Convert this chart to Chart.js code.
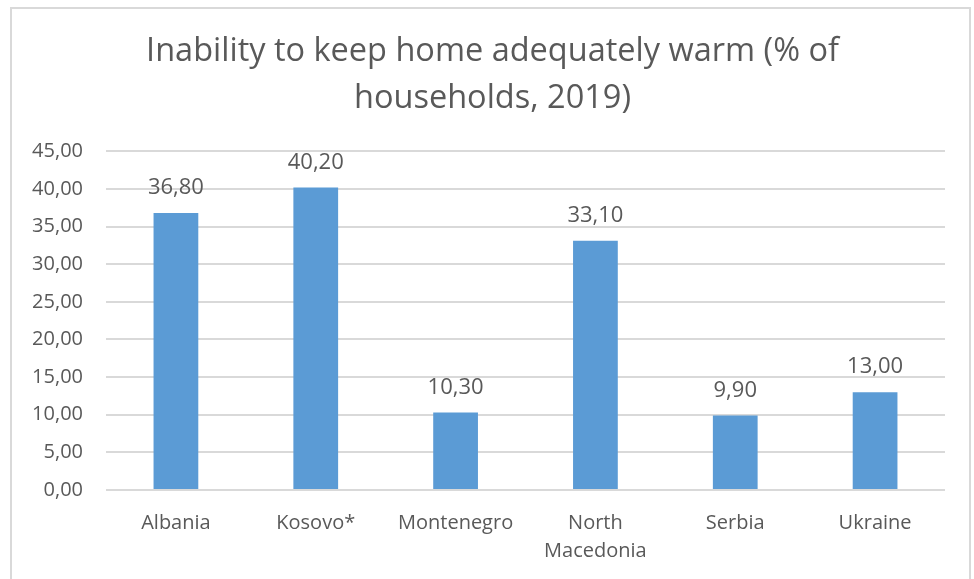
<!DOCTYPE html>
<html>
<head>
<meta charset="utf-8">
<title>Inability to keep home adequately warm</title>
<script src="https://cdn.jsdelivr.net/npm/chart.js@4/dist/chart.umd.min.js"></script>
<style>
  html, body { margin: 0; padding: 0; background: #fff; }
  #wrap { width: 974px; height: 579px; position: relative; }
</style>
</head>
<body>
<div id="wrap"><canvas id="warmChart" width="974" height="579"></canvas></div>
<script>
const titleLines = ['Inability to keep home adequately warm (% of', 'households, 2019)'];
const countries = ['Albania', 'Kosovo*', 'Montenegro', ['North', 'Macedonia'], 'Serbia', 'Ukraine'];
const shares = [36.8, 40.2, 10.3, 33.1, 9.9, 13.0];
const yMin = 0;
const yMax = 45;
const yStep = 5;

const FONT = "'Open Sans', sans-serif";
const GREY_TEXT = '#595959';
const GRID = '#d9d9d9';

const commaFmt = (v) => Number(v).toFixed(2).replace('.', ',');

// light frame around the whole chart, title centred on the frame
const frame = {
    id: 'frame',
    afterLayout: (chart) => {
        if (chart.titleBlock) {
            chart.titleBlock.left = 11;
            chart.titleBlock.right = 974;
        }
    },
    beforeDraw: (chart) => {
        const ctx = chart.ctx;
        ctx.save();
        ctx.fillStyle = '#fff';
        ctx.fillRect(0, 0, chart.width, chart.height);
        ctx.strokeStyle = '#d9d9d9';
        ctx.lineWidth = 2;
        ctx.strokeRect(11, 8, 959, 600);
        ctx.restore();
    }
};

// value printed above each bar
const barValues = {
    id: 'barValues',
    afterDatasetsDraw: (chart) => {
        const ctx = chart.ctx;
        const meta = chart.getDatasetMeta(0);
        ctx.save();
        ctx.font = `22px ${FONT}`;
        ctx.fillStyle = GREY_TEXT;
        ctx.textAlign = 'center';
        ctx.textBaseline = 'middle';
        meta.data.forEach((bar, i) => {
            ctx.fillText(commaFmt(chart.data.datasets[0].data[i]), bar.x, bar.y - 25);
        });
        ctx.restore();
    }
};

new Chart(document.getElementById('warmChart').getContext('2d'), {
    type: 'bar',
    data: {
        labels: countries,
        datasets: [{
            data: shares,
            backgroundColor: '#5b9bd5',
            borderWidth: 0,
            barPercentage: 0.32,
            categoryPercentage: 1
        }]
    },
    options: {
        responsive: false,
        animation: false,
        layout: { padding: { top: 0, right: 29, bottom: 0, left: 0 } },
        plugins: {
            legend: { display: false },
            tooltip: { enabled: false },
            title: {
                display: true,
                text: titleLines,
                color: GREY_TEXT,
                font: { family: FONT, size: 32.5, weight: 'normal', lineHeight: 1.45 },
                padding: { top: 28, bottom: 29 }
            }
        },
        scales: {
            x: {
                grid: { display: false, drawTicks: false },
                border: { display: false },
                ticks: {
                    color: GREY_TEXT,
                    font: { family: FONT, size: 20, lineHeight: 1.4 },
                    padding: 19,
                    maxRotation: 0,
                    autoSkip: false
                },
                afterFit: (scale) => { scale.height = 89; }
            },
            y: {
                min: yMin,
                max: yMax,
                grid: { color: GRID, lineWidth: 2, drawTicks: false },
                border: { display: false },
                ticks: {
                    stepSize: yStep,
                    color: GREY_TEXT,
                    font: { family: FONT, size: 20 },
                    padding: 23,
                    callback: (v) => commaFmt(v)
                },
                afterFit: (scale) => { scale.width = 106; }
            }
        }
    },
    plugins: [frame, barValues]
});
</script>
</body>
</html>
